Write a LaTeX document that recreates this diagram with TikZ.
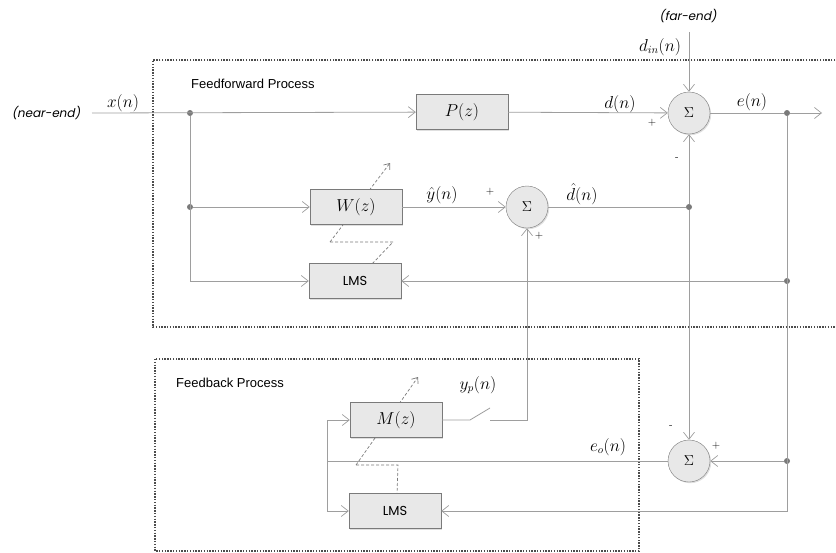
\documentclass[tikz,border=0pt]{standalone}
\usepackage{fontspec}
\usetikzlibrary{arrows.meta,shadows}
\newfontfamily\arialfont{Liberation Sans}
\newfontfamily\gothicfont{Poppins}
\newfontfamily\gothicslant[FakeSlant=0.2]{Poppins}
\definecolor{linegray}{HTML}{9E9E9E}
\definecolor{edgegray}{HTML}{7A7A7A}
\definecolor{boxfill}{HTML}{E8E8E8}

\begin{document}
\begin{tikzpicture}
      [x=1pt,y=-1pt,font=\fontsize{16}{18}\selectfont,
      block/.style={draw=edgegray,fill=boxfill,minimum width=92pt,minimum height=35pt,inner sep=0pt,
        drop shadow={opacity=0.25,shadow xshift=1.2pt,shadow yshift=-1.2pt}},
      sumnode/.style={circle,draw=edgegray,fill=boxfill,minimum size=42pt,inner sep=0pt,
        font=\fontsize{15}{16}\selectfont,
        drop shadow={opacity=0.25,shadow xshift=1.2pt,shadow yshift=-1.2pt}},
      wire/.style={draw=linegray,line width=0.8pt},
      arr/.style={wire,-{Straight Barb[length=7pt,width=11pt,line width=0.7pt]}},
      adapt/.style={draw=edgegray,line width=0.7pt,dashed,dash pattern=on 3pt off 2pt},
      frame/.style={draw=black!70,line width=1.6pt,dash pattern=on 1.4pt off 1.4pt},
      dot/.style={circle,fill=edgegray,inner sep=0pt,minimum size=6pt},
      lbl/.style={inner sep=0.5pt},
      sign/.style={font=\fontsize{11}{12}\selectfont,inner sep=0pt},
      lmstext/.style={font=\gothicfont\fontsize{13}{15}\selectfont},
      endtext/.style={font=\gothicslant\fontsize{12}{14}\selectfont,inner sep=0.5pt},
      proc/.style={font=\arialfont\fontsize{13}{15}\selectfont,anchor=west,inner sep=0pt}]
\useasboundingbox (0,0) rectangle (836,552);

% process frames
\draw[frame] (838,60) -- (153,60) -- (153,327) -- (838,327);
\draw[frame] (155,359) rectangle (639,551);
\node[proc] (fftitle) at (191,84) {Feedforward Process};
\node[proc] (fbtitle) at (176,383) {Feedback Process};

% adaptation arrows
\coordinate (aw1) at (330,242); \coordinate (aw2) at (390,163);
\coordinate (aw3) at (393,242); \coordinate (aw4) at (372,264);
\draw[adapt,-{Straight Barb[length=5pt,width=8pt]}] (aw1) -- (aw2);
\draw[adapt] (aw1) -- (aw3) -- (aw4);
\coordinate (am1) at (356,465); \coordinate (am2) at (418,377);
\coordinate (am3) at (398,465); \coordinate (am4) at (397,494);
\draw[adapt,-{Straight Barb[length=5pt,width=8pt]}] (am1) -- (am2);
\draw[adapt] (am1) -- (am3) -- (am4);

% blocks
\node[block] (P) at (462,112) {$P(z)$};
\node[block] (W) at (356,207) {$W(z)$};
\node[block,lmstext] (lms1) at (355,281) {LMS};
\node[block] (M) at (396,420) {$M(z)$};
\node[block,lmstext] (lms2) at (395,511) {LMS};
\node[sumnode] (S1) at (689,113) {$\Sigma$};
\node[sumnode] (S2) at (527,207) {$\Sigma$};
\node[sumnode] (S3) at (689,461) {$\Sigma$};

% junctions
\node[dot] (j1) at (190,113) {};
\node[dot] (j2) at (190,207) {};
\node[dot] (j3) at (689,207) {};
\node[dot] (j4) at (787,113) {};
\node[dot] (j5) at (787,281) {};
\node[dot] (j6) at (787,461) {};
\coordinate (xin) at (92,113);
\coordinate (eout) at (822,113);
\coordinate (farin) at (689,32);
\coordinate (eback) at (327,461);
\coordinate (sw1) at (470,420);
\coordinate (sw2) at (490,408);
\coordinate (sw3) at (490,420);

% connectors
\draw[arr] (xin) -- (P);
\draw[arr] (P) -- (S1);
\draw[arr] (farin) -- (S1);
\draw[wire] (S1) -- (j4);
\draw[arr] (j4) -- (eout);
\draw[arr] (j2) -- (W);
\draw[arr] (j1) |- (lms1);
\draw[arr] (W) -- (S2);
\draw[wire] (S2) -- (j3);
\draw[arr] (j3) -- (S1);
\draw[arr] (j3) -- (S3);
\draw[arr] (j5) -- (lms1);
\draw[arr] (j4) |- (lms2);
\draw[arr] (j6) -- (S3);
\draw[wire] (S3) -- (eback);
\draw[arr] (eback) |- (M);
\draw[arr] (eback) |- (lms2);
\draw[wire] (M) -- (sw1) -- (sw2);
\draw[arr] (sw3) -| (S2);

% labels
\node[endtext] (nearend) at (46,113) {(near-end)};
\node[endtext] (farend) at (688,16) {(far-end)};
\node[lbl] (lx) at (123,103) {$x(n)$};
\node[lbl] (ldin) at (660,47) {$d_{in}(n)$};
\node[lbl] (ld) at (620,104) {$d(n)$};
\node[lbl] (le) at (752,102) {$e(n)$};
\node[lbl] (lyhat) at (442,195) {$\hat{y}(n)$};
\node[lbl] (ldhat) at (582,194) {$\hat{d}(n)$};
\node[lbl] (lyp) at (478,385) {$y_p(n)$};
\node[lbl] (leo) at (608,447) {$e_o(n)$};
\node[sign] (p1) at (652,123) {+};
\node[sign] (m1) at (677,159) {-};
\node[sign] (p2) at (490,192) {+};
\node[sign] (p3) at (539,236) {+};
\node[sign] (m3) at (671,427) {-};
\node[sign] (p4) at (716,446) {+};
\end{tikzpicture}
\end{document}
